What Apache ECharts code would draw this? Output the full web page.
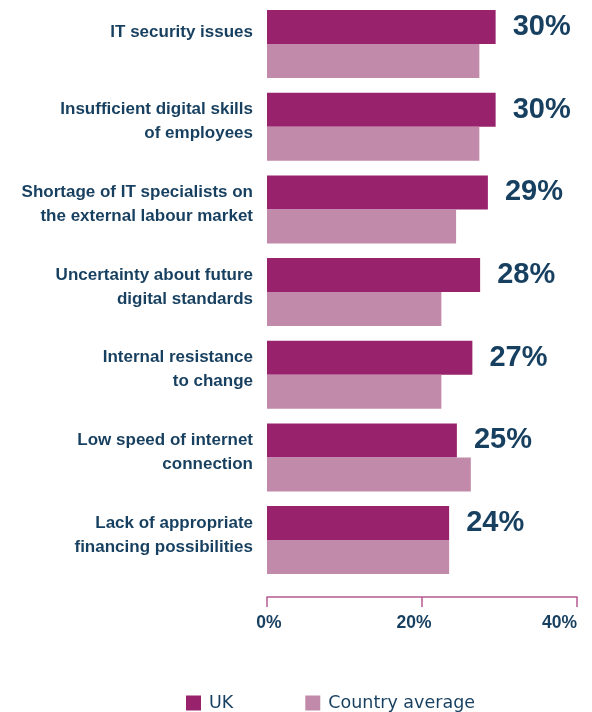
<!DOCTYPE html>
<html>
<head>
<meta charset="utf-8">
<script src="https://cdn.jsdelivr.net/npm/echarts@6/dist/echarts.min.js"></script>
<style>
html,body{margin:0;padding:0;background:#fff;}
#chart{width:592px;height:712px;}
</style>
</head>
<body>
<div id="chart"></div>
<script>
var categories = [
  "IT security issues\n",
  "Insufficient digital skills\nof employees",
  "Shortage of IT specialists on\nthe external labour market",
  "Uncertainty about future\ndigital standards",
  "Internal resistance\nto change",
  "Low speed of internet\nconnection",
  "Lack of appropriate\nfinancing possibilities"
];
var ukValues = [29.5, 29.5, 28.5, 27.5, 26.5, 24.5, 23.5];
var avgValues = [27.4, 27.4, 24.4, 22.5, 22.5, 26.3, 23.5];
var xTicks = [0, 20, 40];
var seriesNames = ["UK", "Country average"];

var navy = "#173f5f";
var chart = echarts.init(document.getElementById("chart"));
chart.setOption({
  animation: false,
  grid: { left: 267, right: 15, top: 2.7, bottom: 130.6, containLabel: false, outerBoundsMode: "none" },
  legend: {
    data: seriesNames,
    left: 186, top: 694, padding: 0,
    itemWidth: 15, itemHeight: 15, itemGap: 72,
    icon: "rect",
    textStyle: { color: navy, fontSize: 17.5, fontFamily: "DejaVu Sans", padding: [0,0,0,3] }
  },
  xAxis: {
    type: "value",
    min: xTicks[0], max: xTicks[xTicks.length - 1], interval: 20,
    offset: 15.6,
    axisLine: { show: true, lineStyle: { color: "#b55a93", width: 1.5 } },
    axisTick: { show: true, length: 10, lineStyle: { color: "#b55a93", width: 1.5 } },
    splitLine: { show: false },
    axisLabel: {
      margin: 17, color: navy, fontSize: 17.5, fontWeight: "bold",
      fontFamily: "Liberation Sans",
      alignMaxLabel: "right",
      formatter: function (v) { return v === 20 ? "{s|" + v + "%}" : (v === 0 ? "{z|" + v + "%}" : v + "%"); },
      rich: {
        s: { color: navy, fontSize: 17.5, fontWeight: "bold", fontFamily: "Liberation Sans", padding: [0, 16, 0, 0] },
        z: { color: navy, fontSize: 17.5, fontWeight: "bold", fontFamily: "Liberation Sans", padding: [0, 0, 0, 4] }
      }
    }
  },
  yAxis: {
    type: "category", inverse: true, data: categories,
    axisLine: { show: false }, axisTick: { show: false },
    axisLabel: {
      margin: 14, color: navy, fontSize: 17, fontWeight: "bold",
      fontFamily: "Liberation Sans", lineHeight: 24, align: "right",
      formatter: function (v, i) { return i === 0 ? v : v + "\n{e| }"; },
      rich: { e: { fontSize: 1, lineHeight: 10 } }
    }
  },
  series: [
    {
      name: seriesNames[0], type: "bar", data: ukValues,
      barWidth: 34, barGap: "0%",
      itemStyle: { color: "#98226c" },
      label: {
        show: true, position: "right", distance: 17,
        color: navy, fontSize: 29, fontWeight: "bold", fontFamily: "Liberation Sans",
        formatter: function (p) { return Math.round(p.value) + "%"; }
      }
    },
    {
      name: seriesNames[1], type: "bar", data: avgValues,
      barWidth: 34, barGap: "0%",
      itemStyle: { color: "#c28aaa" }
    }
  ]
});
</script>
</body>
</html>
